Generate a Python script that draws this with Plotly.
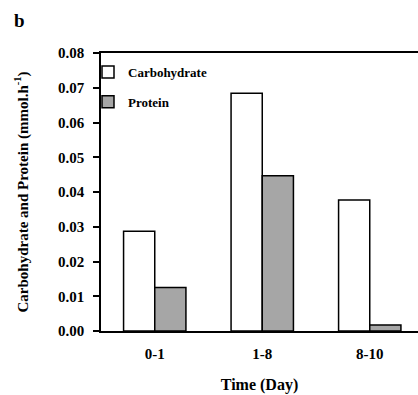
import plotly.graph_objects as go

categories = ["0-1", "1-8", "8-10"]
carbohydrate = [0.0287, 0.0684, 0.0377]
protein = [0.0125, 0.0447, 0.0017]

FONT = "Liberation Serif"
L, T, W, H = 101, 53, 418, 395
B = 64
PW = W - L
PH = H - T - B

def px_x(x):
    return (x - L) / PW

def px_y(y):
    return (H - B - y) / PH

fig = go.Figure()
fig.add_trace(go.Bar(
    x=categories, y=carbohydrate, name="Carbohydrate",
    marker=dict(color="white", line=dict(color="black", width=1.5)),
    legendgroup="c", showlegend=True,
))
fig.add_trace(go.Bar(
    x=categories, y=protein, name="Protein",
    marker=dict(color="#a6a6a6", line=dict(color="black", width=1.5)),
    legendgroup="p", showlegend=True,
))

fig.update_layout(
    width=W, height=H, autosize=False,
    margin=dict(l=L, r=0, t=T, b=B),
    paper_bgcolor="white", plot_bgcolor="white",
    barmode="group", bargap=0.42, bargroupgap=0,
    font=dict(family=FONT, color="black"),
    showlegend=True,
    legend=dict(
        x=px_x(88), y=px_y(57), xanchor="left", yanchor="top",
        bgcolor="rgba(0,0,0,0)", traceorder="grouped", tracegroupgap=10,
        font=dict(family=FONT, size=13, color="black", weight="bold"),
        itemclick=False,
    ),
    xaxis=dict(
        range=[-0.5, -0.5 + PW / 107.5],
        showline=True, linecolor="black", linewidth=1.5, mirror=True,
        ticks="", showgrid=False, zeroline=False,
        tickfont=dict(family=FONT, size=15, color="black", weight="bold"),
        ticklabelstandoff=8,
        title=dict(text="Time (Day)", font=dict(family=FONT, size=16, color="black", weight="bold"), standoff=18),
    ),
    yaxis=dict(
        range=[0, 0.08], dtick=0.01, tickformat=".2f",
        showline=True, linecolor="black", linewidth=1.5, mirror=False,
        ticks="outside", ticklen=6, tickwidth=1.5, tickcolor="black",
        showgrid=False, zeroline=False,
        tickfont=dict(family=FONT, size=15, color="black", weight="bold"),
        ticklabelstandoff=6,
        title=dict(text="Carbohydrate and Protein (mmol.h<sup>-1</sup>)",
                   font=dict(family=FONT, size=15, color="black", weight="bold"), standoff=26),
    ),
    annotations=[dict(
        text="<b>b</b>", x=px_x(12), y=px_y(20), xref="paper", yref="paper",
        xanchor="left", yanchor="middle", showarrow=False,
        font=dict(family=FONT, size=19, color="black"),
    )],
)

fig.write_html("out.html")
